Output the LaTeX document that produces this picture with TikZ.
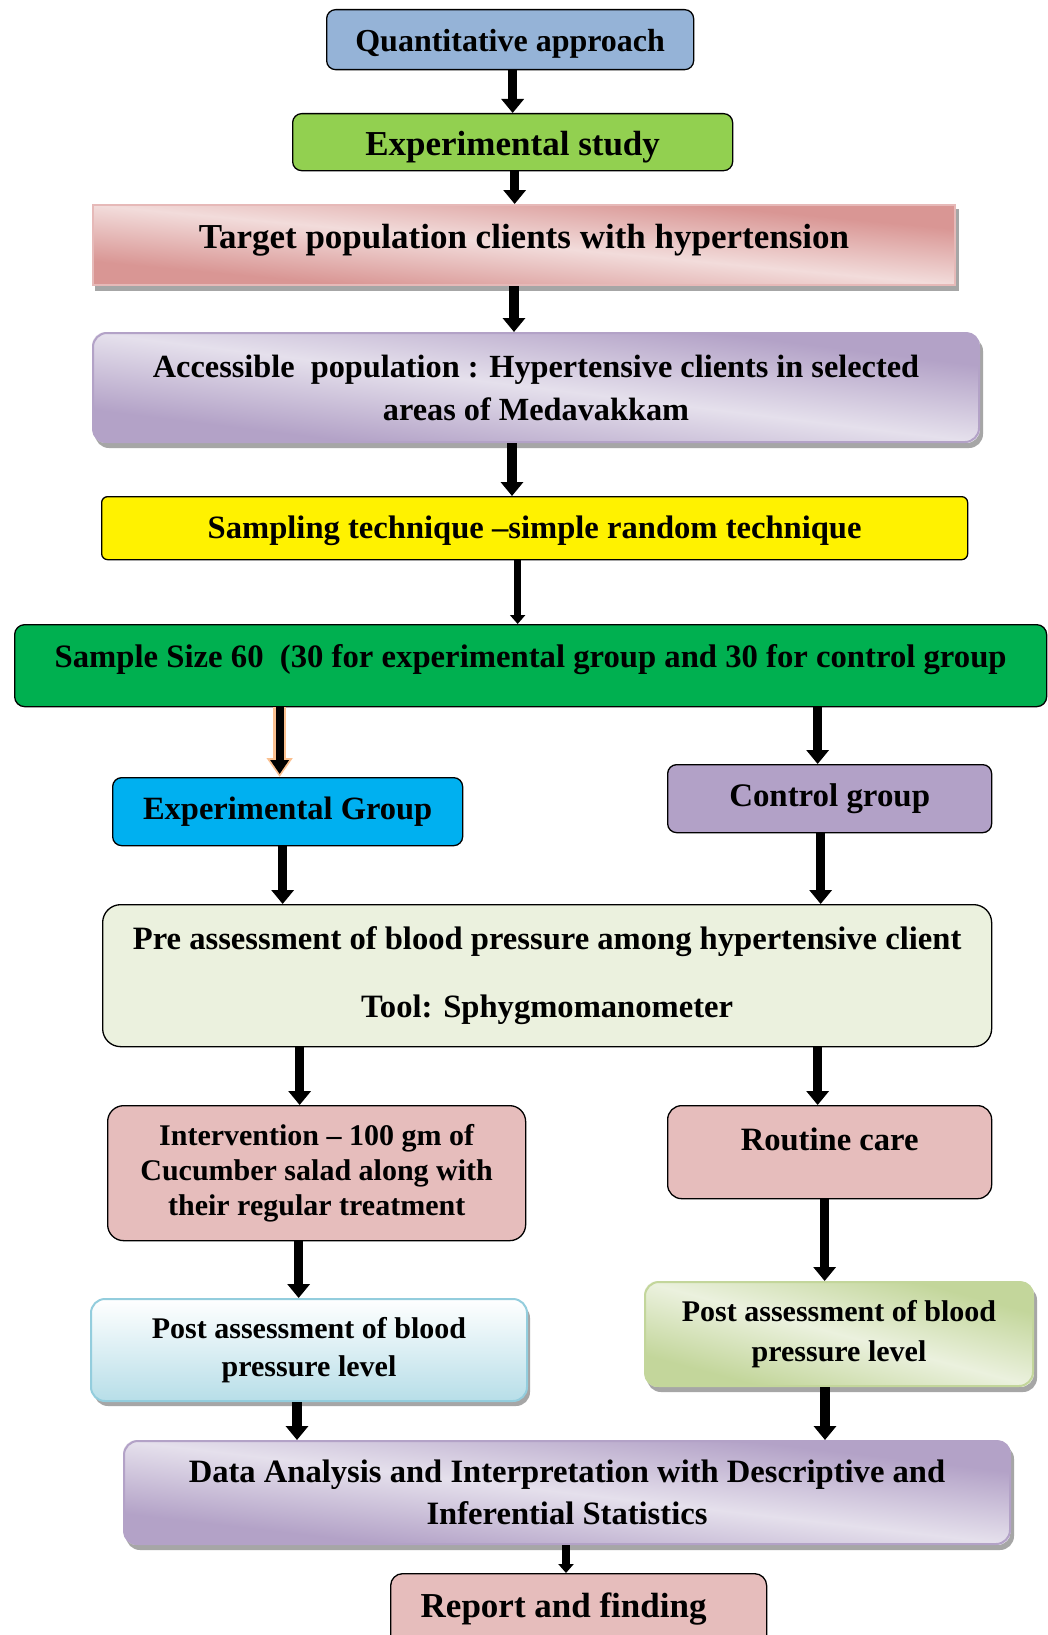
\documentclass[tikz,border=0pt]{standalone}
\usepackage{fontspec}
\setmainfont{Liberation Serif}
\usetikzlibrary{arrows.meta,shadows,calc,backgrounds}
\definecolor{qblue}{HTML}{95B3D7}
\definecolor{egreen}{HTML}{92D050}
\definecolor{pinkD}{HTML}{D99694}
\definecolor{pinkL}{HTML}{F2DCDB}
\definecolor{pinkB}{HTML}{E6B9B8}
\definecolor{lavD}{HTML}{B3A2C7}
\definecolor{lavL}{HTML}{E5E0EC}
\definecolor{sgreen}{HTML}{00B050}
\definecolor{cyanb}{HTML}{00B0F0}
\definecolor{ctrl}{HTML}{B2A1C7}
\definecolor{pregreen}{HTML}{EBF1DE}
\definecolor{rose}{HTML}{E6BDBC}
\definecolor{aquaL}{HTML}{B7DEE8}
\definecolor{aquaB}{HTML}{93CDDD}
\definecolor{oliveD}{HTML}{C3D69B}
\definecolor{oliveL}{HTML}{EBF1DE}
\definecolor{arrorange}{HTML}{FAC090}
\definecolor{shad}{HTML}{A6A6A6}
\tikzset{
  bx/.style={draw=black, line width=1.3pt, rounded corners=9pt, inner sep=0pt,
    anchor=north west, align=center},
  fs/.style={font=\bfseries\fontsize{#1}{#1}\selectfont},
  fsl/.style 2 args={font=\bfseries\fontsize{#1}{#2}\selectfont},
  shd/.style={drop shadow={shadow xshift=3pt, shadow yshift=-5pt, fill=shad, opacity=1}},
  arr/.style={line width=9.5pt, -{Triangle[width=22pt,length=14pt]}},
  arrthin/.style={line width=7.5pt, -{Triangle[width=15pt,length=9pt]}},
}
% background of a box: drop shadow plus diagonal shading
% #1 node, #2 dark colour, #3 light colour, #4 xscale, #5 yscale, #6 corner radius
\newcommand\diagbg[6]{%
  \fill[shad, rounded corners=#6] ([xshift=3pt,yshift=-5pt]#1.north west) rectangle ([xshift=3pt,yshift=-5pt]#1.south east);
  \begin{scope}
    \clip[rounded corners=#6] (#1.north west) rectangle (#1.south east);
    \fill[#3] (#1.north west) rectangle (#1.south east);
    \begin{scope}[transform canvas={shift={(#1.center)}, xscale=#4, yscale=#5}]
      \shade[top color=#2, bottom color=#2, middle color=#3, shading angle=-45] (-50,-50) rectangle (50,50);
    \end{scope}
  \end{scope}}
\begin{document}
\begin{tikzpicture}[x=1pt,y=-1pt]
\useasboundingbox (0,0) rectangle (1047,1635);

\node[bx, fill=qblue, minimum width=367pt, minimum height=60pt, fs=32, text height=31pt] (q) at (326,9) {Quantitative approach};
\node[bx, fill=egreen, minimum width=440pt, minimum height=57pt, fs=35, text height=34pt] (e) at (292,113) {Experimental study};
\node[bx, rounded corners=0pt, draw=pinkB, line width=2pt,
  minimum width=862pt, minimum height=80pt, fs=35, text depth=18pt] (t) at (92,204) {Target population clients with hypertension};
\node[bx, rounded corners=14pt, draw=lavD, line width=2pt,
  minimum width=886pt, minimum height=109pt, fsl={32.3}{43}] (a) at (92,332) {Accessible\ \ population : Hypertensive clients in selected\\ areas of Medavakkam};
\node[bx, rounded corners=6pt, fill=yellow, minimum width=866pt, minimum height=63pt, fs=32.6, text height=28.5pt] (s) at (101,496) {Sampling technique --simple random technique};
\node[bx, rounded corners=10pt, fill=sgreen, minimum width=1032pt, minimum height=82pt, fs=32.7, text depth=19pt] (ss) at (14,624) {Sample Size 60\ \ (30 for experimental group and 30 for control group};
\node[bx, fill=cyanb, minimum width=350pt, minimum height=68pt, fs=32.5] (eg) at (112,777) {Experimental Group};
\node[bx, fill=ctrl, minimum width=324pt, minimum height=68pt, fs=32.9] (cg) at (667,764) {Control group};
\node[bx, rounded corners=18pt, fill=pregreen, minimum width=889pt, minimum height=142pt, fsl={32.6}{68}] (pre) at (102,904) {Pre assessment of blood pressure among hypertensive client\\ Tool: Sphygmomanometer};
\node[bx, rounded corners=16pt, fill=rose, minimum width=418pt, minimum height=135pt, fsl={30}{35}] (int) at (107,1105) {Intervention -- 100 gm of\\ Cucumber salad along with\\ their regular treatment};
\node[bx, rounded corners=14pt, fill=rose, minimum width=324pt, minimum height=93pt, text depth=26pt, fs=32.6] (rc) at (667,1105) {Routine care};
\node[bx, rounded corners=14pt, draw=aquaB, line width=2pt, shd, top color=white, bottom color=aquaL,
  minimum width=436pt, minimum height=102pt, fsl={30}{38}] (pl) at (90,1298) {Post assessment of blood\\ pressure level};
\node[bx, rounded corners=14pt, draw=oliveD, line width=2pt,
  minimum width=388pt, minimum height=104pt, fsl={30}{40}] (pr) at (644,1281) {Post assessment of blood\\ pressure level};
\node[bx, rounded corners=14pt, draw=lavD, line width=2pt,
  minimum width=886pt, minimum height=103pt, fsl={32.6}{42}] (data) at (123,1440) {Data Analysis and Interpretation with Descriptive and\\ Inferential Statistics};
\node[bx, rounded corners=12pt, fill=rose, minimum width=376pt, minimum height=80pt, fs=35, text depth=16pt] (rep) at (390,1573) {Report and finding\hspace*{30pt}};

\begin{scope}[on background layer]
  \fill[white] (0,0) rectangle (1047,1635);
  \diagbg{t}{pinkD}{pinkL}{8.62}{0.80}{0pt}
  \diagbg{a}{lavD}{lavL}{8.86}{1.09}{14pt}
  \diagbg{pr}{oliveD}{oliveL}{3.88}{1.04}{14pt}
  \diagbg{data}{lavD}{lavL}{8.86}{1.03}{14pt}
\end{scope}

% connectors
\draw[arr] (q.south -| e.north) -- (e.north);
\draw[arr] ([xshift=2pt]e.south) -- ([xshift=2pt]e.south |- t.north);
\draw[arr] ([xshift=-10pt]t.south) -- ([xshift=-10pt]t.south |- a.north);
\draw[arr] ([xshift=-24pt]a.south) -- ([xshift=-24pt]a.south |- s.north);
\draw[arrthin] ([xshift=-17pt]s.south) -- ([xshift=-17pt]s.south |- ss.north);
\draw[line width=13pt, draw=arrorange, -{Triangle[width=25pt,length=19pt]}] ([xshift=-8pt]eg.north |- ss.south) -- ([xshift=-8pt]eg.north);
\draw[line width=8pt, -{Triangle[width=18pt,length=14pt]}, shorten >=3pt] ([xshift=-8pt]eg.north |- ss.south) -- ([xshift=-8pt]eg.north);
\draw[arr] ([xshift=-12pt]cg.north |- ss.south) -- ([xshift=-12pt]cg.north);
\draw[arr] ([xshift=-5pt]eg.south) -- ([xshift=-5pt]eg.south |- pre.north);
\draw[arr] ([xshift=-9pt]cg.south) -- ([xshift=-9pt]cg.south |- pre.north);
\draw[arr] ([xshift=-17pt]int.north |- pre.south) -- ([xshift=-17pt]int.north);
\draw[arr] ([xshift=-12pt]rc.north |- pre.south) -- ([xshift=-12pt]rc.north);
\draw[arr] ([xshift=-18pt]int.south) -- ([xshift=-18pt]int.south |- pl.north);
\draw[arr] ([xshift=-5pt]rc.south) -- ([xshift=-5pt]rc.south |- pr.north);
\draw[arr] ([xshift=-12pt]pl.south) -- ([xshift=-12pt]pl.south |- data.north);
\draw[arr] ([xshift=-14pt]pr.south) -- ([xshift=-14pt]pr.south |- data.north);
\draw[arrthin] ([xshift=-1pt]data.south) -- ([xshift=-1pt]data.south |- rep.north);
\end{tikzpicture}
\end{document}
